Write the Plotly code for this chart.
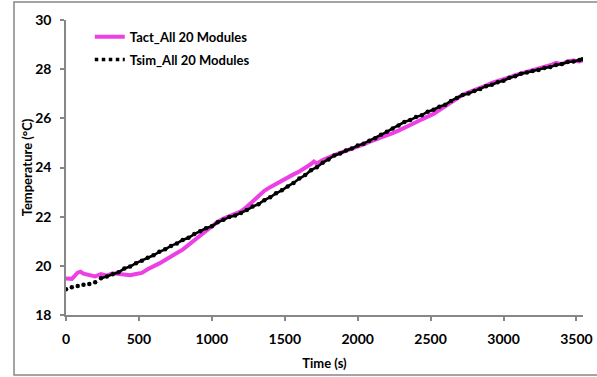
import plotly.graph_objects as go

# Time axis (s)
time_act = [0, 40, 80, 100, 120, 160, 200, 240, 280, 320, 360, 400, 440, 480, 520, 560, 600, 640, 680, 720,
            760, 800, 840, 880, 920, 960, 1000, 1040, 1080, 1120, 1160, 1200, 1240, 1280, 1320, 1360, 1400, 1440,
            1480, 1520, 1560, 1600, 1640, 1680, 1700, 1720, 1760, 1800, 1840, 1880, 1920, 1960, 2000, 2040, 2080,
            2120, 2160, 2200, 2240, 2280, 2320, 2360, 2400, 2440, 2480, 2520, 2560, 2600, 2640, 2680, 2720, 2760,
            2800, 2840, 2880, 2920, 2960, 3000, 3040, 3080, 3120, 3160, 3200, 3240, 3280, 3320, 3360, 3400, 3440,
            3480, 3520, 3540]
temp_act = [19.48, 19.47, 19.72, 19.76, 19.68, 19.63, 19.57, 19.66, 19.60, 19.70, 19.67, 19.66, 19.62, 19.67, 19.71,
            19.86, 19.97, 20.10, 20.24, 20.40, 20.52, 20.66, 20.85, 21.05, 21.24, 21.42, 21.58, 21.80, 21.92, 22.02,
            22.11, 22.22, 22.40, 22.62, 22.86, 23.05, 23.20, 23.34, 23.45, 23.58, 23.72, 23.84, 23.98, 24.14, 24.24,
            24.16, 24.30, 24.42, 24.50, 24.60, 24.68, 24.74, 24.84, 24.94, 25.04, 25.12, 25.22, 25.30, 25.40, 25.50,
            25.60, 25.72, 25.84, 25.96, 26.06, 26.18, 26.34, 26.50, 26.66, 26.84, 26.96, 27.06, 27.14, 27.26, 27.33,
            27.44, 27.50, 27.60, 27.66, 27.76, 27.82, 27.92, 27.95, 28.04, 28.08, 28.16, 28.26, 28.20, 28.32, 28.35,
            28.31, 28.36]

time_sim = [0, 40, 80, 120, 160, 200, 240, 280, 320, 360, 400, 440, 480, 520, 560, 600, 640, 680, 720, 760, 800,
            840, 880, 920, 960, 1000, 1040, 1080, 1120, 1160, 1200, 1240, 1280, 1320, 1360, 1400, 1440, 1480, 1520,
            1560, 1600, 1640, 1680, 1720, 1760, 1800, 1840, 1880, 1920, 1960, 2000, 2040, 2080, 2120, 2160, 2200,
            2240, 2280, 2320, 2360, 2400, 2440, 2480, 2520, 2560, 2600, 2640, 2680, 2720, 2760, 2800, 2840, 2880,
            2920, 2960, 3000, 3040, 3080, 3120, 3160, 3200, 3240, 3280, 3320, 3360, 3400, 3440, 3480, 3520, 3540]
temp_sim = [19.05, 19.13, 19.18, 19.23, 19.26, 19.33, 19.49, 19.57, 19.66, 19.74, 19.89, 19.97, 20.11, 20.21, 20.33,
            20.43, 20.57, 20.67, 20.81, 20.91, 21.05, 21.14, 21.29, 21.41, 21.53, 21.61, 21.77, 21.87, 21.99, 22.05,
            22.15, 22.27, 22.41, 22.51, 22.67, 22.79, 22.95, 23.07, 23.23, 23.37, 23.55, 23.69, 23.89, 24.01, 24.19,
            24.33, 24.49, 24.57, 24.69, 24.77, 24.89, 24.97, 25.09, 25.19, 25.33, 25.45, 25.59, 25.71, 25.85, 25.93,
            26.05, 26.13, 26.27, 26.35, 26.47, 26.55, 26.71, 26.83, 26.95, 27.01, 27.11, 27.19, 27.31, 27.37, 27.47,
            27.53, 27.65, 27.71, 27.81, 27.86, 27.93, 27.97, 28.05, 28.09, 28.17, 28.21, 28.29, 28.31, 28.37, 28.40]

x_ticks = [0, 500, 1000, 1500, 2000, 2500, 3000, 3500]
y_ticks = [18, 20, 22, 24, 26, 28, 30]

MAGENTA = "#EC40E4"
GRAY = "#878787"
FONT = "Lato"

fig = go.Figure()

fig.add_trace(go.Scatter(x=time_act, y=temp_act, mode="lines", name="Tact_All 20 Modules",
                         line=dict(color=MAGENTA, width=4), legendgroup="a"))
# Simulated series: dense dots, joined where they overlap
fig.add_trace(go.Scatter(x=time_sim[6:], y=temp_sim[6:], mode="lines", showlegend=False,
                         line=dict(color="black", width=2.6), hoverinfo="skip"))
fig.add_trace(go.Scatter(x=time_sim, y=temp_sim, mode="markers", showlegend=False,
                         marker=dict(color="black", size=4.5)))
fig.add_trace(go.Scatter(x=[None], y=[None], mode="lines", name="Tsim_All 20 Modules",
                         line=dict(color="black", width=3.5, dash="dot"), legendgroup="b"))

# outer frame
fig.add_shape(type="rect", xref="paper", yref="paper", x0=-0.1006, x1=1.04, y0=-0.2034, y1=1.061,
              line=dict(color=GRAY, width=1.5), layer="below")

fig.update_layout(
    width=597, height=377,
    margin=dict(l=66, r=14, t=20, b=62),
    paper_bgcolor="white", plot_bgcolor="white",
    font=dict(family=FONT, size=13, color="black"),
    showlegend=True,
    legend=dict(x=0.046, y=0.994, xanchor="left", yanchor="top", bgcolor="rgba(0,0,0,0)",
                font=dict(family=FONT, size=13, color="black", weight="bold"),
                tracegroupgap=3, itemwidth=30),
    xaxis=dict(range=[0, 3545], tickvals=x_ticks, showgrid=False, zeroline=False, automargin=False,
               showline=True, linecolor=GRAY, linewidth=1.5,
               ticks="outside", ticklen=4, tickcolor=GRAY, tickwidth=1.5, ticklabelstandoff=6,
               tickfont=dict(family=FONT, size=14, weight="bold"),
               title=dict(text="Time (s)", font=dict(family=FONT, size=13, weight="bold"), standoff=13)),
    yaxis=dict(range=[18, 30], tickvals=y_ticks, showgrid=False, zeroline=False, automargin=False,
               showline=True, linecolor=GRAY, linewidth=1.5,
               ticks="outside", ticklen=4, tickcolor=GRAY, tickwidth=1.5, ticklabelstandoff=6,
               tickfont=dict(family=FONT, size=14, weight="bold"),
               title=dict(text="Temperature (°C)", font=dict(family=FONT, size=13, weight="bold"), standoff=0)),
)

fig.write_html("out.html")
